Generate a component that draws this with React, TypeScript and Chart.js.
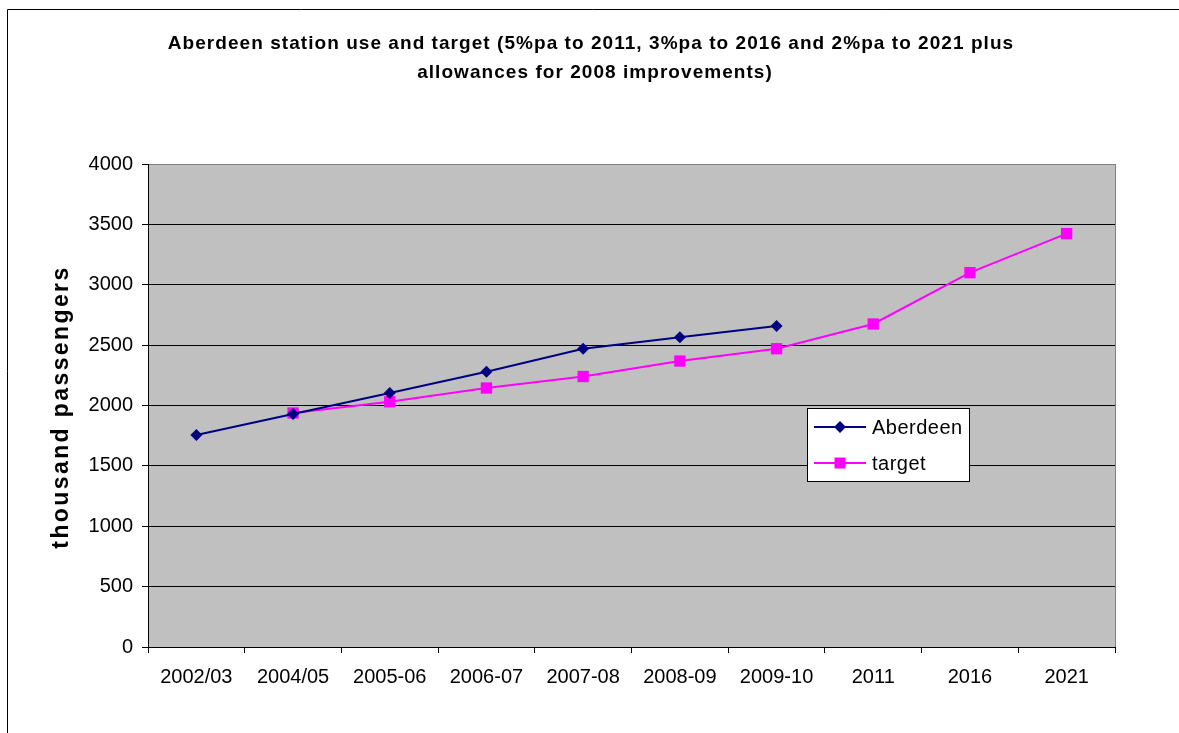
import React, { useEffect, useRef } from "react";
import { Chart, registerables } from "chart.js";

Chart.register(...registerables);

const categories = ["2002/03", "2004/05", "2005-06", "2006-07", "2007-08", "2008-09", "2009-10", "2011", "2016", "2021"];
const aberdeenValues = [1755, 1930, 2103, 2280, 2470, 2565, 2658, null, null, null];
const targetValues = [null, 1938, 2031, 2145, 2240, 2368, 2470, 2675, 3100, 3423];
const titleLines = [
  "Aberdeen station use and target (5%pa to 2011, 3%pa to 2016 and 2%pa to 2021 plus",
  "allowances for 2008 improvements)",
];
const yAxisTitle = "thousand passengers";
const seriesNames = ["Aberdeen", "target"];
const yMin = 0;
const yMax = 4000;
const yStep = 500;

const NAVY = "#000080";
const MAGENTA = "#FF00FF";
const FONT = "'Liberation Sans', Arial, sans-serif";

function drawMarker(ctx: CanvasRenderingContext2D, kind: string, x: number, y: number, color: string) {
  ctx.save();
  ctx.fillStyle = color;
  ctx.beginPath();
  if (kind === "diamond") {
    const r = 6;
    ctx.moveTo(x, y - r);
    ctx.lineTo(x + r, y);
    ctx.lineTo(x, y + r);
    ctx.lineTo(x - r, y);
    ctx.closePath();
  } else {
    const s = 5.5;
    ctx.rect(x - s, y - s, 2 * s, 2 * s);
  }
  ctx.fill();
  ctx.restore();
}

const decorPlugin = {
  id: "decor",
  beforeDraw(chart: any) {
    const { ctx, chartArea } = chart;
    ctx.save();
    ctx.fillStyle = "#FFFFFF";
    ctx.fillRect(0, 0, chart.width, chart.height);
    ctx.fillStyle = "#C0C0C0";
    ctx.fillRect(chartArea.left, chartArea.top, chartArea.right - chartArea.left, chartArea.bottom - chartArea.top);
    ctx.restore();
  },
  afterDraw(chart: any) {
    const { ctx, chartArea } = chart;
    ctx.save();
    // plot area right border (grey)
    ctx.strokeStyle = "#808080";
    ctx.lineWidth = 1;
    ctx.beginPath();
    ctx.moveTo(Math.round(chartArea.right) + 0.5, chartArea.top);
    ctx.lineTo(Math.round(chartArea.right) + 0.5, chartArea.bottom);
    ctx.stroke();

    // outer chart border
    ctx.strokeStyle = "#000000";
    ctx.beginPath();
    ctx.moveTo(7.5, chart.height + 5);
    ctx.lineTo(7.5, 9.5);
    ctx.lineTo(chart.width + 5, 9.5);
    ctx.stroke();

    // title
    ctx.fillStyle = "#000000";
    ctx.font = `bold 19px ${FONT}`;
    (ctx as any).letterSpacing = "1.05px";
    ctx.textAlign = "center";
    ctx.textBaseline = "alphabetic";
    ctx.fillText(titleLines[0], 591, 49);
    ctx.fillText(titleLines[1], 595, 78);

    // y axis title
    ctx.save();
    ctx.translate(62, 407);
    ctx.rotate(-Math.PI / 2);
    ctx.font = `bold 23px ${FONT}`;
    (ctx as any).letterSpacing = "2.4px";
    ctx.textAlign = "center";
    ctx.textBaseline = "middle";
    ctx.fillText(yAxisTitle, 0, 0);
    ctx.restore();
    (ctx as any).letterSpacing = "0px";

    // legend
    const lx = 807.5, ly = 408.5, lw = 162, lh = 73;
    ctx.fillStyle = "#FFFFFF";
    ctx.fillRect(lx, ly, lw, lh);
    ctx.strokeStyle = "#000000";
    ctx.lineWidth = 1;
    ctx.strokeRect(lx, ly, lw, lh);
    const rows = [
      { name: seriesNames[0], color: NAVY, kind: "diamond", y: 427 },
      { name: seriesNames[1], color: MAGENTA, kind: "square", y: 463 },
    ];
    rows.forEach((r) => {
      ctx.strokeStyle = r.color;
      ctx.lineWidth = 2;
      ctx.beginPath();
      ctx.moveTo(814, r.y);
      ctx.lineTo(866, r.y);
      ctx.stroke();
      drawMarker(ctx, r.kind, 840, r.y, r.color);
      ctx.fillStyle = "#000000";
      ctx.font = `20px ${FONT}`;
      (ctx as any).letterSpacing = "0.5px";
      ctx.textAlign = "left";
      ctx.textBaseline = "middle";
      ctx.fillText(r.name, 872, r.y + 1);
    });
    (ctx as any).letterSpacing = "0px";
    ctx.restore();
  },
};

export default function App() {
  const ref = useRef<HTMLCanvasElement | null>(null);
  useEffect(() => {
    document.body.style.margin = "0";
    const canvas = ref.current;
    if (!canvas) return;
    const chart = new Chart(canvas, {
      type: "line",
      data: {
        labels: categories,
        datasets: [
          {
            label: seriesNames[0],
            data: aberdeenValues,
            borderColor: NAVY,
            backgroundColor: NAVY,
            borderWidth: 2,
            pointStyle: "rectRot",
            pointRadius: 6,
            pointHoverRadius: 6,
            pointBorderWidth: 0,
            tension: 0,
            spanGaps: false,
          },
          {
            label: seriesNames[1],
            data: targetValues,
            borderColor: MAGENTA,
            backgroundColor: MAGENTA,
            borderWidth: 2,
            pointStyle: "rect",
            pointRadius: 8,
            pointHoverRadius: 8,
            pointBorderWidth: 0,
            tension: 0,
            spanGaps: false,
          },
        ],
      },
      options: {
        animation: false,
        responsive: false,
        devicePixelRatio: 1,
        layout: { padding: { left: 0, top: 164, right: 64, bottom: 0 } },
        plugins: {
          legend: { display: false },
          title: { display: false },
          tooltip: { enabled: false },
        },
        scales: {
          x: {
            type: "category",
            offset: true,
            grid: {
              offset: true,
              drawOnChartArea: false,
              drawTicks: true,
              tickLength: 6,
              tickColor: "#000000",
              color: "#000000",
            },
            border: { color: "#000000", width: 1 },
            ticks: {
              color: "#000000",
              font: { family: FONT, size: 20 },
              padding: 12,
              maxRotation: 0,
              autoSkip: false,
            },
            afterFit(scale: any) {
              scale.height = 86;
            },
          },
          y: {
            min: yMin,
            max: yMax,
            grid: {
              color: (c: any) => (c.tick && c.tick.value === yMax ? "#808080" : "#000000"),
              tickColor: "#000000",
              tickLength: 6,
              lineWidth: 1,
            },
            border: { color: "#000000", width: 1 },
            ticks: {
              stepSize: yStep,
              color: "#000000",
              font: { family: FONT, size: 20 },
              padding: 9,
              callback: (v: any) => String(v),
            },
            afterFit(scale: any) {
              scale.width = 148;
            },
          },
        },
      },
      plugins: [decorPlugin],
    });
    return () => chart.destroy();
  }, []);
  return <canvas ref={ref} width={1179} height={733} style={{ display: "block" }} />;
}
